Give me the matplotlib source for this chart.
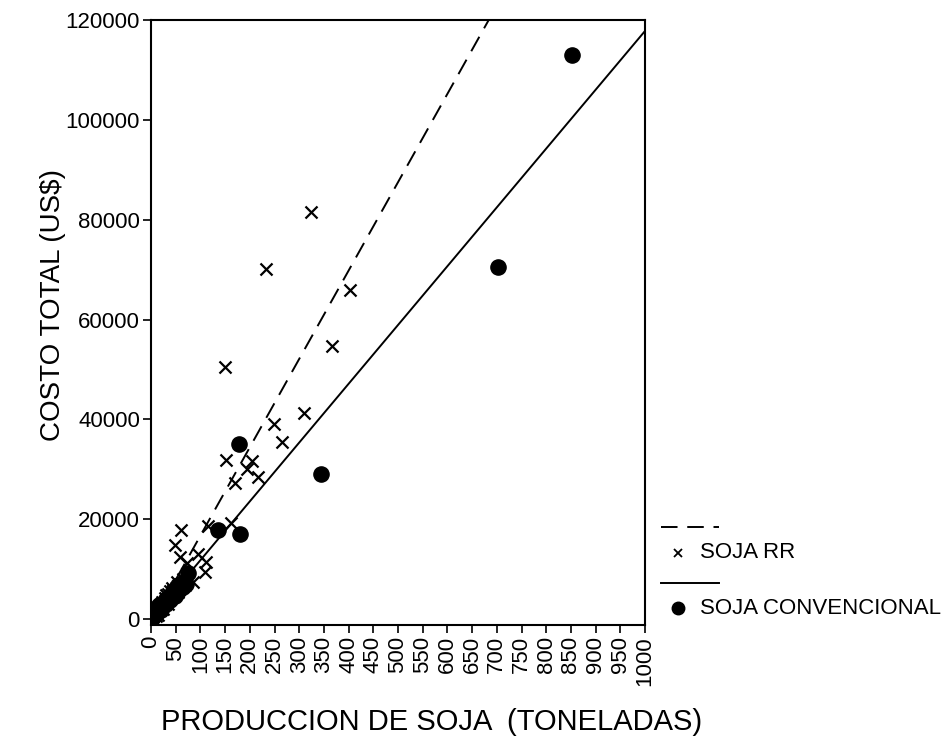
import numpy as np
import matplotlib
matplotlib.use("Agg")
import matplotlib.pyplot as plt
from matplotlib.lines import Line2D

plt.rcParams['font.family'] = ['Liberation Sans', 'DejaVu Sans']

# Data (toneladas, US$)
rr_x = [323, 232, 403, 366, 150, 310, 248, 265, 152, 204, 195, 217, 170,
        161, 116, 60, 48, 58, 96, 111, 109, 72, 85,
        5, 8, 10, 12, 15, 18, 20, 22, 25, 28, 30, 32, 35, 40, 42, 45, 50, 55, 62, 68,
        6, 14, 24, 34, 38, 52, 58, 65]
rr_y = [81600, 70100, 66000, 54700, 50400, 41300, 39000, 35500, 31900, 31600, 30000, 28500, 27300,
        19300, 18700, 17800, 14800, 12500, 13100, 11500, 9500, 11200, 7500,
        800, 1500, 600, 1200, 2500, 2000, 3000, 3500, 2800, 4200, 4800, 3600, 5000, 4500, 6300, 5800, 6200, 5500, 7000, 6800,
        1800, 900, 2000, 3000, 5600, 7500, 6500, 8000]

conv_x = [853, 703, 345, 178, 180, 135, 75,
          3, 4, 7, 10, 12, 14, 17, 20, 24, 27, 30, 34, 38, 42, 48, 52, 58, 65,
          9, 16, 22, 31, 44, 55, 62, 70]
conv_y = [113000, 70600, 29000, 35000, 17000, 17800, 9200,
          200, 400, 900, 1300, 2200, 1800, 2400, 1900, 3000, 3400, 3000, 4200, 3800, 5000, 4600, 5300, 6000, 6400,
          1700, 2800, 2600, 4000, 5600, 6800, 7200, 7000]

# fitted lines: y = slope * x + intercept
rr_fit = (177.0, -1000.0)
conv_fit = (117.8, 0.0)

W, H = 950, 753
fig = plt.figure(figsize=(9.5, 7.53), dpi=100)
ax = fig.add_axes([151 / W, 1 - 625 / H, 494 / W, 605 / H])

xs = np.linspace(0, 1000, 400)
ax.plot(xs, rr_fit[0] * xs + rr_fit[1], color='black', lw=1.4, ls=(0, (8.5, 5)))
ax.plot(xs, conv_fit[0] * xs + conv_fit[1], color='black', lw=1.4)

ax.scatter(rr_x, rr_y, marker='x', s=75, color='black', linewidths=1.6, zorder=3)
ax.scatter(conv_x, conv_y, marker='o', s=120, color='black', zorder=3)

ax.set_xlim(0, 1000)
ax.set_ylim(-1200, 120000)
ax.set_xticks(np.arange(0, 1001, 50))
ax.set_xticklabels([str(v) for v in range(0, 1001, 50)], rotation=90, fontsize=16)
ax.set_yticks(np.arange(0, 120001, 20000))
ax.set_yticklabels([str(v) for v in range(0, 120001, 20000)], fontsize=16)
ax.tick_params(direction='out', length=6, width=1.2, pad=2)
for sp in ax.spines.values():
    sp.set_linewidth(1.5)

fig.text(53 / W, 1 - 305 / H, 'COSTO TOTAL (US$)', rotation=90, fontsize=20,
         ha='center', va='center')
fig.text(432 / W, 1 - 722 / H, 'PRODUCCION DE SOJA  (TONELADAS)', fontsize=21,
         ha='center', va='center')

# hand-drawn legend to the right of the frame
def fy(py):
    return 1 - py / H

fig.add_artist(Line2D([661 / W, 719 / W], [fy(527)] * 2, color='black', lw=1.4, ls=(0, (8.5, 5))))
fig.add_artist(Line2D([678 / W], [fy(553)], marker='x', ms=6, mew=1.3, color='black', ls='none'))
fig.text(700 / W, fy(553), 'SOJA RR', fontsize=16, va='center')
fig.add_artist(Line2D([661 / W, 719 / W], [fy(583)] * 2, color='black', lw=1.4))
fig.add_artist(Line2D([678 / W], [fy(608)], marker='o', ms=9, color='black', ls='none'))
fig.text(700 / W, fy(608), 'SOJA CONVENCIONAL', fontsize=16, va='center')

fig.savefig('out.png', dpi=100)
